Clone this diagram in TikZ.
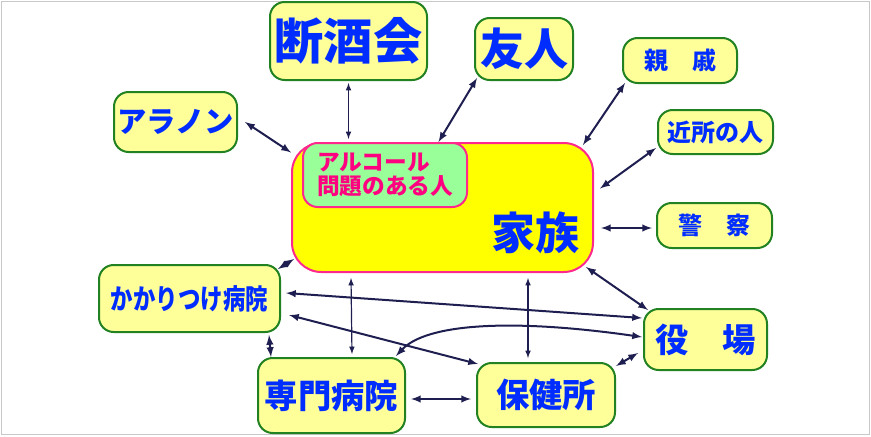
\documentclass[tikz,border=0pt]{standalone}
\usepackage{fontspec}
\newfontfamily\jp{Noto Sans CJK JP}
\usepackage{tikz}
\usetikzlibrary{positioning, calc}

\definecolor{textblue}{RGB}{0,45,255}
\definecolor{boxgreen}{RGB}{34,130,34}
\definecolor{boxyellow}{RGB}{255,255,153}
\definecolor{famyellow}{RGB}{255,255,0}
\definecolor{pinkline}{RGB}{255,40,140}
\definecolor{alcgreen}{RGB}{153,255,153}
\definecolor{alcpink}{RGB}{255,0,128}
\definecolor{arrownavy}{RGB}{30,30,80}
\definecolor{framegray}{RGB}{200,200,200}

\begin{document}
\begin{tikzpicture}[
    x=0.75pt, y=-0.75pt,
    >=latex,
    link/.style={draw=arrownavy, line width=1.5pt},
    every edge/.style={link},
    vline/.style={line width=0.9pt},
    box/.style={draw=boxgreen, fill=boxyellow, line width=1.5pt, rounded corners=11pt, inner sep=0pt, text=textblue},
    famibox/.style={draw=pinkline, fill=famyellow, line width=1.5pt, rounded corners=22pt},
    alcbox/.style={draw=pinkline, fill=alcgreen, line width=1.5pt, rounded corners=11pt, inner sep=0pt, text=alcpink, align=left},
    wh/.style 2 args={minimum width=#1*0.75pt, minimum height=#2*0.75pt},
    jp/.style={font=\jp\bfseries\fontsize{#1}{#1}\selectfont},
    narrow/.style={font=\jp\bfseries\fontsize{#1}{#1}\selectfont\addfontfeature{FakeStretch=0.8}}]

    \useasboundingbox (0,0) rectangle (871,436);
    \draw [framegray, line width=0.75pt] (1,1) rectangle (869,434);

    \node at (348.5,41) [box, wh={157}{78}, jp=37] (dansyu) {断酒会};
    \node at (175.5,122) [box, wh={123}{60}, jp=22] (arannon) {アラノン};
    \node at (524,49) [box, wh={98}{62}, jp=33] (yujin) {友人};
    \node at (680,60.5) [box, wh={114}{45}, jp=18] (shinseki) {親　戚};
    \node at (715.5,132) [box, wh={115}{44}, jp=18] (kinjo) {近所の人};
    \node at (714.5,225.5) [box, wh={115}{45}, jp=18] (keisatsu) {警　察};
    \node at (442.5,207.5) [famibox, wh={301}{129}] (kazoku) {};
    \node at (385,175) [alcbox, wh={164}{64}, font=\jp\bfseries\fontsize{17}{18}\selectfont] (alcohol) {アルコール\\問題のある人};
    \node at (535,232.5) [jp=33, text=textblue] (kazokutext) {家族};
    \node at (189.5,298.5) [box, wh={181}{67}, narrow=21] (kakari) {かかりつけ病院};
    \node at (331.5,395.5) [box, wh={147}{75}, jp=25] (senmon) {専門病院};
    \node at (546,395) [box, wh={138}{64}, jp=25] (hokenjo) {保健所};
    \node at (705.5,339.5) [box, wh={123}{61}, jp=25] (yakuba) {役　場};

    \path ($(arannon.east)+(7,0)$) edge [<->] ($(kazoku.west)+(0,-55)$);
    \path ($(dansyu.south)+(0,2)$) edge [<->, vline] ($(dansyu.south |- kazoku.north)+(0,-3)$);
    \path ($(yujin.south west)+(3,-3)$) edge [<->] ($(kazoku.north)+(-4,0)$);
    \path ($(shinseki.south west)+(3,-1)$) edge [<->] ($(kazoku.north east)+(-11,3)$);
    \path ($(kinjo.south west)+(-1,-7)$) edge [<->] ($(kazoku.east)+(6,-19)$);
    \path ($(keisatsu.west)+(-4,2.5)$) edge [<->] ($(kazoku.east)+(7,20.5)$);
    \path ($(kakari.north east)+(-3,5)$) edge [<->] ($(kazoku.south west)+(3,-14)$);
    \path ($(kazoku.south west)+(60,5)$) edge [<->, vline] ($(senmon.north)+(20.5,-3)$);
    \path ($(kazoku.south)+(85.5,5)$) edge [<->, vline] ($(hokenjo.north)+(-18,-4)$);
    \path ($(kazoku.south east)+(-8,-6)$) edge [<->] ($(yakuba.north west)+(5,2)$);
    \path ($(kakari.east)+(5,-5.5)$) edge [<->] ($(yakuba.west)+(-1,-21.5)$);
    \path ($(kakari.east)+(8,16.5)$) edge [<->] ($(hokenjo.north west)+(2,2)$);
    \path ($(kakari.south east)+(-12,2)$) edge [<->] ($(senmon.north west)+(14,0)$);
    \path ($(senmon.east)+(5,3.5)$) edge [<->] ($(hokenjo.west)+(-5,4)$);
    \draw [link, <->] ($(senmon.north east)+(-10,-1)$) .. controls +(30,-32) and +(-133,-19) .. ($(yakuba.west)+(-1,-2.5)$);
    \path ($(yakuba.west)+(-5,13.5)$) edge [<->] ($(hokenjo.north east)+(0,4)$);

\end{tikzpicture}
\end{document}
